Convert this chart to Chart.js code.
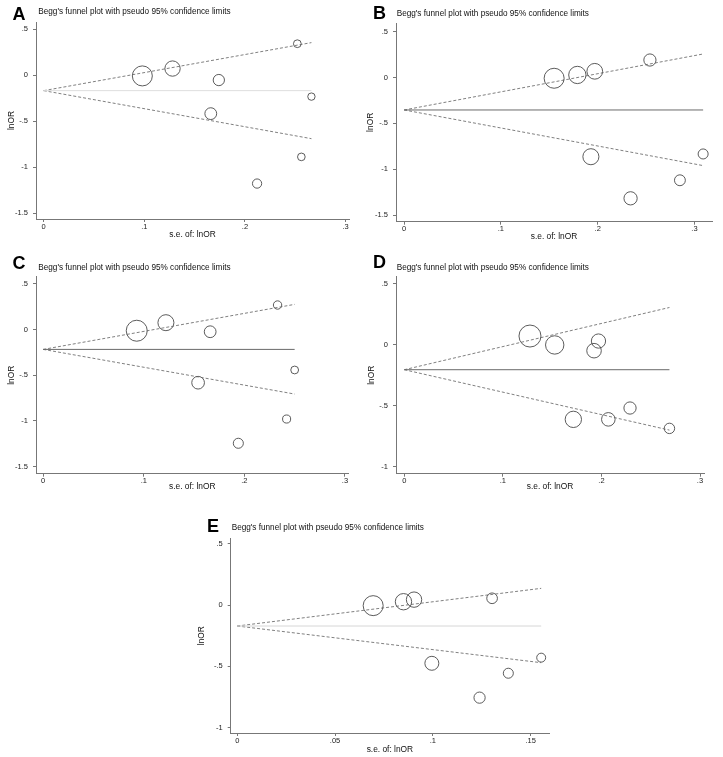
<!DOCTYPE html>
<html>
<head>
<meta charset="utf-8">
<script src="https://cdn.jsdelivr.net/npm/chart.js"></script>
<style>
  body { margin: 0; background: #fff; width: 723px; height: 757px; position: relative; overflow: hidden;
         font-family: "Liberation Sans", Arial, sans-serif; }
  canvas { position: absolute; }
  .letter { position: absolute; font-weight: bold; font-size: 18px; line-height: 18px; color: #000; }
  .ptitle { position: absolute; font-size: 8.2px; line-height: 8.2px; color: #111; white-space: nowrap; }
</style>
</head>
<body>
  <canvas id="chartA" width="360" height="245" style="left:0px;top:0px"></canvas>
  <canvas id="chartB" width="363" height="245" style="left:360px;top:0px"></canvas>
  <canvas id="chartC" width="360" height="250" style="left:0px;top:245px"></canvas>
  <canvas id="chartD" width="363" height="250" style="left:360px;top:245px"></canvas>
  <canvas id="chartE" width="380" height="262" style="left:180px;top:495px"></canvas>

  <div class="letter" style="left:12.5px;top:4.8px">A</div>
  <div class="ptitle" style="left:38.3px;top:8.4px">Begg's funnel plot with pseudo 95% confidence limits</div>
  <div class="letter" style="left:373px;top:3.8px">B</div>
  <div class="ptitle" style="left:396.7px;top:9.6px">Begg's funnel plot with pseudo 95% confidence limits</div>
  <div class="letter" style="left:12.5px;top:253.8px">C</div>
  <div class="ptitle" style="left:38.3px;top:264px">Begg's funnel plot with pseudo 95% confidence limits</div>
  <div class="letter" style="left:373px;top:253px">D</div>
  <div class="ptitle" style="left:396.7px;top:264px">Begg's funnel plot with pseudo 95% confidence limits</div>
  <div class="letter" style="left:207px;top:516.5px">E</div>
  <div class="ptitle" style="left:231.7px;top:524px">Begg's funnel plot with pseudo 95% confidence limits</div>

<script>
// ---- data ----
// panel A
const seA = [0.098, 0.128, 0.174, 0.166, 0.252, 0.266, 0.256, 0.212];
const lnorA = [-0.01, 0.07, -0.055, -0.42, 0.34, -0.235, -0.89, -1.18];
const limitSeA = [0, 0.266];
const pooledA = [-0.17, -0.17];
const upperA = [-0.17, 0.352];
const lowerA = [-0.17, -0.692];

// panel B
const seB = [0.155, 0.179, 0.197, 0.254, 0.193, 0.309, 0.285, 0.234];
const lnorB = [-0.008, 0.028, 0.068, 0.191, -0.864, -0.834, -1.121, -1.318];
const limitSeB = [0, 0.309];
const pooledB = [-0.354, -0.354];
const upperB = [-0.354, 0.257];
const lowerB = [-0.354, -0.961];

// panel C
const seC = [0.093, 0.122, 0.166, 0.154, 0.233, 0.25, 0.242, 0.194];
const lnorC = [-0.014, 0.074, -0.025, -0.582, 0.267, -0.443, -0.979, -1.244];
const limitSeC = [0, 0.25];
const pooledC = [-0.218, -0.218];
const upperC = [-0.218, 0.274];
const lowerC = [-0.218, -0.706];

// panel D
const seD = [0.1275, 0.1526, 0.197, 0.1925, 0.1715, 0.207, 0.229, 0.269];
const lnorD = [0.071, -0.002, 0.03, -0.049, -0.612, -0.612, -0.519, -0.686];
const limitSeD = [0, 0.269];
const pooledD = [-0.205, -0.205];
const upperD = [-0.205, 0.305];
const lowerD = [-0.205, -0.7];

// panel E
const seE = [0.0695, 0.085, 0.0904, 0.1303, 0.0995, 0.1386, 0.1239, 0.1554];
const lnorE = [-0.005, 0.027, 0.044, 0.055, -0.475, -0.556, -0.755, -0.429];
const limitSeE = [0, 0.1554];
const pooledE = [-0.171, -0.171];
const upperE = [-0.171, 0.136];
const lowerE = [-0.171, -0.47];

// tick values / labels
const xTicks3 = [0, 0.1, 0.2, 0.3];
const xLabels3 = ['0', '.1', '.2', '.3'];
const xTicksE = [0, 0.05, 0.1, 0.15];
const xLabelsE = ['0', '.05', '.1', '.15'];
const yTicks15 = [-1.5, -1, -0.5, 0, 0.5];
const yLabels15 = ['-1.5', '-1', '-.5', '0', '.5'];
const yTicks1 = [-1, -0.5, 0, 0.5];
const yLabels1 = ['-1', '-.5', '0', '.5'];

const xTitle = 's.e. of: lnOR';
const yTitle = 'lnOR';

Chart.defaults.font.family = '"Liberation Sans", Arial, sans-serif';

const FAMILY = '"Liberation Sans", Arial, sans-serif';
const AXIS_COLOR = '#777';

function pts(xs, ys) {
  return xs.map((x, i) => ({ x: x, y: ys[i] }));
}

// value range that puts the calibration ticks on the right pixels
function range(c, lo, hi) {
  const k = (c[2] - c[0]) / (c[3] - c[1]);
  return [c[0] + (lo - c[1]) * k, c[0] + (hi - c[1]) * k];
}

function makePanel(id, p) {
  const ctx = document.getElementById(id);
  const box = p.box, area = p.area;
  const yW = 36;
  const xH = box.top + box.h - area.b;
  const xr = range(p.xCal, area.l, area.r);
  const yr = range(p.yCal, area.b, area.t);
  const minSe = Math.min(...p.se);

  new Chart(ctx, {
    type: 'scatter',
    data: {
      datasets: [
        { type: 'line', data: pts(p.limitSe, p.pooled), borderColor: p.midColor, borderWidth: 1,
          pointRadius: 0, fill: false },
        { type: 'line', data: pts(p.limitSe, p.upper), borderColor: '#606060', borderWidth: 0.8,
          borderDash: [3, 2], pointRadius: 0, fill: false },
        { type: 'line', data: pts(p.limitSe, p.lower), borderColor: '#606060', borderWidth: 0.8,
          borderDash: [3, 2], pointRadius: 0, fill: false },
        { data: pts(p.se, p.lnor), backgroundColor: 'rgba(0,0,0,0)', borderColor: '#4a4a4a',
          borderWidth: 0.9,
          // circle size follows study weight (1/se)
          pointRadius: c => (c.raw ? p.rMax * minSe / c.raw.x : 3) }
      ]
    },
    options: {
      responsive: false,
      animation: false,
      layout: { padding: { left: area.l - yW - box.left, top: area.t - box.top,
                           right: box.left + box.w - area.r, bottom: 0 } },
      plugins: { legend: { display: false }, tooltip: { enabled: false } },
      scales: {
        x: {
          type: 'linear', min: xr[0], max: xr[1],
          afterBuildTicks: s => { s.ticks = p.xTicks.map(v => ({ value: v })); },
          afterFit: s => { s.height = xH; },
          ticks: { callback: (v, i) => p.xLabels[i], font: { size: 7.5, family: FAMILY }, color: '#222',
                   padding: 0, maxRotation: 0, autoSkip: false },
          grid: { drawOnChartArea: false, tickLength: 3, color: AXIS_COLOR },
          border: { color: AXIS_COLOR, width: 1 },
          title: { display: true, text: xTitle, font: { size: 8.4, family: FAMILY }, color: '#111',
                   padding: { top: 0, bottom: box.top + box.h - p.xTitleY - 5 } }
        },
        y: {
          type: 'linear', min: yr[0], max: yr[1],
          afterBuildTicks: s => { s.ticks = p.yTicks.map(v => ({ value: v })); },
          afterFit: s => { s.width = yW; },
          ticks: { callback: (v, i) => p.yLabels[i], font: { size: 7.5, family: FAMILY }, color: '#222',
                   padding: 5, autoSkip: false },
          grid: { drawOnChartArea: false, tickLength: 3, color: AXIS_COLOR },
          border: { color: AXIS_COLOR, width: 1 },
          title: { display: true, text: yTitle, font: { size: 8.4, family: FAMILY }, color: '#111',
                   padding: { top: p.yTitleX - (area.l - yW) - 5, bottom: 0 } }
        }
      }
    }
  });
}

makePanel('chartA', {
  box: { left: 0, top: 0, w: 360, h: 245 }, area: { l: 36, t: 22, r: 353, b: 219 },
  xCal: [0, 43.8, 0.3, 349.5], yCal: [0.5, 29, -1.5, 213], xTitleY: 235, yTitleX: 11.5,
  se: seA, lnor: lnorA, limitSe: limitSeA, pooled: pooledA, upper: upperA, lower: lowerA,
  midColor: '#dedede', rMax: 10,
  xTicks: xTicks3, xLabels: xLabels3, yTicks: yTicks15, yLabels: yLabels15
});

makePanel('chartB', {
  box: { left: 360, top: 0, w: 363, h: 245 }, area: { l: 396, t: 23, r: 718, b: 221.7 },
  xCal: [0, 404.3, 0.3, 700], yCal: [0.5, 31.7, -1.5, 215], xTitleY: 237, yTitleX: 371,
  se: seB, lnor: lnorB, limitSe: limitSeB, pooled: pooledB, upper: upperB, lower: lowerB,
  midColor: '#6a6a6a', rMax: 10,
  xTicks: xTicks3, xLabels: xLabels3, yTicks: yTicks15, yLabels: yLabels15
});

makePanel('chartC', {
  box: { left: 0, top: 245, w: 360, h: 250 }, area: { l: 36, t: 276.7, r: 353, b: 473.7 },
  xCal: [0, 43.3, 0.3, 349.3], yCal: [0.5, 283.7, -1.5, 466.7], xTitleY: 487, yTitleX: 11.5,
  se: seC, lnor: lnorC, limitSe: limitSeC, pooled: pooledC, upper: upperC, lower: lowerC,
  midColor: '#6a6a6a', rMax: 10.5,
  xTicks: xTicks3, xLabels: xLabels3, yTicks: yTicks15, yLabels: yLabels15
});

makePanel('chartD', {
  box: { left: 360, top: 245, w: 363, h: 250 }, area: { l: 396, t: 276.7, r: 704, b: 473.7 },
  xCal: [0, 404.3, 0.3, 700], yCal: [0.5, 283.7, -1, 466.7], xTitleY: 487, yTitleX: 371.5,
  se: seD, lnor: lnorD, limitSe: limitSeD, pooled: pooledD, upper: upperD, lower: lowerD,
  midColor: '#6a6a6a', rMax: 11,
  xTicks: xTicks3, xLabels: xLabels3, yTicks: yTicks1, yLabels: yLabels1
});

makePanel('chartE', {
  box: { left: 180, top: 495, w: 380, h: 262 }, area: { l: 230.7, t: 538.3, r: 553, b: 733 },
  xCal: [0, 237.3, 0.15, 534.3], yCal: [0.5, 543.7, -1, 727.7], xTitleY: 750, yTitleX: 201.7,
  se: seE, lnor: lnorE, limitSe: limitSeE, pooled: pooledE, upper: upperE, lower: lowerE,
  midColor: '#d6d6d6', rMax: 10,
  xTicks: xTicksE, xLabels: xLabelsE, yTicks: yTicks1, yLabels: yLabels1
});
</script>
</body>
</html>
